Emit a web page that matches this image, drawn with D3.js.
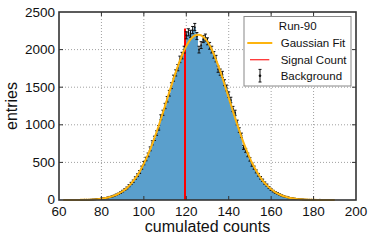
<!DOCTYPE html>
<html><head><meta charset="utf-8">
<script src="https://cdn.jsdelivr.net/npm/d3@7"></script>
<style>body{margin:0;background:#fff}svg{display:block;font-family:"Liberation Sans",Arial,sans-serif}</style>
</head><body><div id="chart"></div>
<script>
// histogram bins (cumulated counts) and entries
const binX = d3.range(62, 191);
const entries = [0,0,0,0,1,0,1,1,2,2,3,3,4,6,7,9,12,14,20,22,28,33,41,47,57,70,82,98,118,138,160,190,220,250,292,330,372,430,490,545,600,680,760,820,890,960,1100,1160,1250,1340,1420,1520,1620,1690,1760,1870,1920,2000,2190,2230,2210,2260,2300,2180,2000,2060,2140,2160,2110,2050,2000,1930,1880,1740,1700,1670,1560,1490,1400,1330,1210,1160,1030,930,860,700,660,600,540,470,430,380,335,295,262,225,198,165,138,118,100,88,73,60,50,42,35,28,23,19,15,12,10,8,6,5,4,4,3,2,2,3,1,2,1,1,1,0,0];
// gaussian fit curve, sampled every 2
const fitX = d3.range(62, 191, 2);
const fitY = [0.19,0.34,0.59,1.0,1.7,2.9,4.6,7.4,11.6,17.9,27,40,58,83,117,161,218,290,377,483,606,747,904,1074,1252,1434,1611,1777,1925,2046,2135,2187,2199,2171,2104,2001,1868,1713,1541,1361,1181,1005,840,689,554,438,340,259,194,142,102,73,50,34,23,15,9.7,6.1,3.8,2.3,1.4,0.8,0.5,0.27,0.15];
// signal count marker
const signalX = 119.4;
const signalTop = 2280;
const xTicks = [60,80,100,120,140,160,180,200];
const yTicks = [0,500,1000,1500,2000,2500];
const legendTitle = "Run-90";
const legendLabels = ["Gaussian Fit","Signal Count","Background"];

const W = 374, H = 242;
const m = {l:59, t:12, r:18, b:42};
const svg = d3.select("#chart").append("svg").attr("width",W).attr("height",H);
const x = d3.scaleLinear().domain([60,200]).range([m.l, W-m.r]);
const y = d3.scaleLinear().domain([0,2500]).range([H-m.b, m.t]);

// grid
const grid = svg.append("g").attr("stroke","#a0a0a0").attr("stroke-width",1).attr("stroke-dasharray","1,2");
xTicks.slice(1,-1).forEach(t=>grid.append("line").attr("x1",x(t)).attr("x2",x(t)).attr("y1",y(0)).attr("y2",y(2500)));
yTicks.slice(1,-1).forEach(t=>grid.append("line").attr("x1",x(60)).attr("x2",x(200)).attr("y1",y(t)).attr("y2",y(t)));

// histogram fill
const steps = [];
binX.forEach((b,i)=>{steps.push([b-0.5,entries[i]]);steps.push([b+0.5,entries[i]]);});
svg.append("path").datum(steps)
  .attr("fill","#5a9fcc")
  .attr("d", d3.area().x(d=>x(d[0])).y0(y(0)).y1(d=>y(d[1])));

// signal line
svg.append("line").attr("x1",x(signalX)).attr("x2",x(signalX)).attr("y1",y(0)).attr("y2",y(signalTop))
  .attr("stroke","#ff0000").attr("stroke-width",2);

// error bars
const eb = svg.append("g").attr("stroke","#111").attr("stroke-width",1);
binX.forEach((b,i)=>{
  const n = entries[i]; if(n<=0) return;
  const e = Math.sqrt(n), cx = x(b);
  eb.append("line").attr("x1",cx).attr("x2",cx).attr("y1",y(n-e)).attr("y2",y(n+e));
  eb.append("line").attr("x1",cx-1.5).attr("x2",cx+1.5).attr("y1",y(n-e)).attr("y2",y(n-e));
  eb.append("line").attr("x1",cx-1.5).attr("x2",cx+1.5).attr("y1",y(n+e)).attr("y2",y(n+e));
  eb.append("circle").attr("cx",cx).attr("cy",y(n)).attr("r",0.9).attr("fill","#111").attr("stroke","none");
});

// fit curve
svg.append("path").datum(fitX.map((v,i)=>[v,fitY[i]]))
  .attr("fill","none").attr("stroke","#fdb40f").attr("stroke-width",2)
  .attr("d", d3.line().x(d=>x(d[0])).y(d=>y(d[1])).curve(d3.curveMonotoneX));

// frame
svg.append("rect").attr("x",x(60)).attr("y",y(2500)).attr("width",x(200)-x(60)).attr("height",y(0)-y(2500))
  .attr("fill","none").attr("stroke","#333").attr("stroke-width",1.6);

// ticks inward
const tk = svg.append("g").attr("stroke","#333").attr("stroke-width",1);
xTicks.slice(1,-1).forEach(t=>{
  tk.append("line").attr("x1",x(t)).attr("x2",x(t)).attr("y1",y(0)).attr("y2",y(0)-4);
  tk.append("line").attr("x1",x(t)).attr("x2",x(t)).attr("y1",y(2500)).attr("y2",y(2500)+4);
});
yTicks.slice(1,-1).forEach(t=>{
  tk.append("line").attr("x1",x(60)).attr("x2",x(60)+4).attr("y1",y(t)).attr("y2",y(t));
  tk.append("line").attr("x1",x(200)).attr("x2",x(200)-4).attr("y1",y(t)).attr("y2",y(t));
});

// tick labels
const lab = svg.append("g").attr("fill","#111").attr("font-size","13.5px");
xTicks.forEach(t=>lab.append("text").attr("x",x(t)).attr("y",y(0)+15.5).attr("text-anchor","middle").text(t));
yTicks.forEach(t=>lab.append("text").attr("x",x(60)-4).attr("y",t===0 ? y(t)+3.5 : y(t)+4.5).attr("text-anchor","end").text(t));

// axis titles
svg.append("text").attr("x",(x(60)+x(200))/2).attr("y",232).attr("text-anchor","middle")
  .attr("font-size","16px").attr("fill","#111").text("cumulated counts");
svg.append("text").attr("transform","translate(17,106) rotate(-90)").attr("text-anchor","middle")
  .attr("font-size","16px").attr("fill","#111").text("entries");

// legend
const lg = svg.append("g");
lg.append("rect").attr("x",244).attr("y",16.5).attr("width",107).attr("height",69.5)
  .attr("fill","#fff").attr("stroke","#888").attr("stroke-width",1);
lg.append("text").attr("x",297.7).attr("y",30.3).attr("text-anchor","middle").attr("font-size","11.5px").attr("fill","#111").text(legendTitle);
const ly = [43, 59.7, 75.7];
lg.append("line").attr("x1",247.3).attr("x2",272.3).attr("y1",ly[0]).attr("y2",ly[0]).attr("stroke","#fdb40f").attr("stroke-width",2);
lg.append("line").attr("x1",250).attr("x2",269.3).attr("y1",ly[1]).attr("y2",ly[1]).attr("stroke","#ff0000").attr("stroke-width",1.3).attr("opacity",0.8);
lg.append("line").attr("x1",260).attr("x2",260).attr("y1",ly[2]-6.3).attr("y2",ly[2]+6.3).attr("stroke","#111");
lg.append("line").attr("x1",258.5).attr("x2",261.5).attr("y1",ly[2]-6.3).attr("y2",ly[2]-6.3).attr("stroke","#111");
lg.append("line").attr("x1",258.5).attr("x2",261.5).attr("y1",ly[2]+6.3).attr("y2",ly[2]+6.3).attr("stroke","#111");
lg.append("circle").attr("cx",260).attr("cy",ly[2]).attr("r",1.3).attr("fill","#111");
legendLabels.forEach((s,i)=>lg.append("text").attr("x",280.7).attr("y",ly[i]+4.3).attr("font-size","11.5px").attr("fill","#111").text(s));
</script></body></html>
